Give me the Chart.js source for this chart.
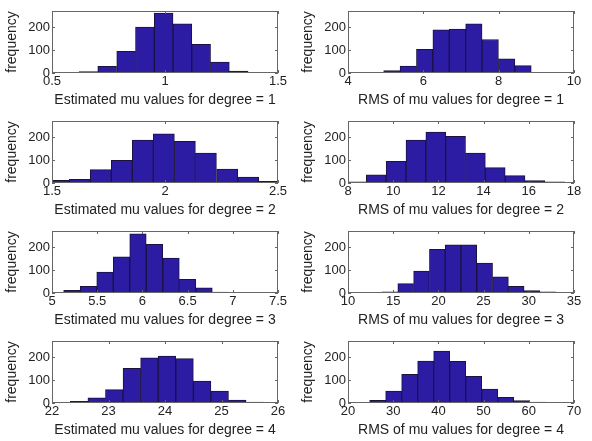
<!DOCTYPE html>
<html>
<head>
<meta charset="utf-8">
<script src="https://cdn.jsdelivr.net/npm/chart.js@4.4.1/dist/chart.umd.min.js"></script>
<style>
  html, body { margin: 0; padding: 0; background: #fff; overflow: hidden; }
  #wrap { position: relative; width: 592px; height: 441px; }
  .cell { position: absolute; width: 296px; height: 110px; }
</style>
</head>
<body>
<div id="wrap"></div>
<script>
// Shared y axis
const yTicks = [0, 100, 200];
const yMax = 270;

// Estimated mu, degree 1
const muDeg1Centers = [0.578, 0.661, 0.744, 0.828, 0.911, 0.994, 1.077, 1.160, 1.243, 1.326, 1.410];
const muDeg1Counts = [2, 6, 29, 94, 200, 261, 214, 125, 48, 8, 2];
const muDeg1Ticks = [0.5, 1, 1.5];

// RMS of mu, degree 1
const rmsDeg1Centers = [5.165, 5.600, 6.035, 6.471, 6.906, 7.341, 7.776, 8.212, 8.647, 9.082, 9.518];
const rmsDeg1Counts = [10, 30, 103, 188, 191, 214, 146, 62, 32, 3, 2];
const rmsDeg1Ticks = [4, 6, 8, 10];

// Estimated mu, degree 2
const muDeg2Centers = [1.530, 1.623, 1.716, 1.809, 1.902, 1.995, 2.088, 2.181, 2.275, 2.368, 2.461];
const muDeg2Counts = [12, 16, 58, 99, 187, 214, 181, 130, 61, 26, 7];
const muDeg2Ticks = [1.5, 2, 2.5];

// RMS of mu, degree 2
const rmsDeg2Centers = [8.373, 9.250, 10.128, 11.005, 11.883, 12.761, 13.638, 14.516, 15.393, 16.271, 17.148];
const rmsDeg2Counts = [5, 36, 94, 187, 222, 203, 130, 67, 32, 10, 5];
const rmsDeg2Ticks = [8, 10, 12, 14, 16, 18];

// Estimated mu, degree 3
const muDeg3Centers = [5.220, 5.403, 5.586, 5.769, 5.951, 6.134, 6.317, 6.500, 6.682, 6.865, 7.048];
const muDeg3Counts = [12, 29, 91, 157, 258, 212, 152, 59, 22, 4, 2];
const muDeg3Ticks = [5, 5.5, 6, 6.5, 7, 7.5];

// RMS of mu, degree 3
const rmsDeg3Centers = [14.63, 16.38, 18.13, 19.88, 21.62, 23.37, 25.12, 26.87, 28.61, 30.36, 32.11];
const rmsDeg3Counts = [5, 41, 96, 190, 210, 210, 130, 70, 29, 10, 5];
const rmsDeg3Ticks = [10, 15, 20, 25, 30, 35];

// Estimated mu, degree 4
const muDeg4Centers = [22.480, 22.791, 23.102, 23.413, 23.724, 24.035, 24.346, 24.657, 24.968, 25.279, 25.590];
const muDeg4Counts = [7, 22, 58, 151, 197, 204, 193, 96, 52, 13, 4];
const muDeg4Ticks = [22, 23, 24, 25, 26];

// RMS of mu, degree 4
const rmsDeg4Centers = [26.56, 30.10, 33.64, 37.18, 40.72, 44.26, 47.80, 51.34, 54.88, 58.42, 61.96];
const rmsDeg4Counts = [12, 52, 125, 183, 226, 181, 116, 61, 25, 10, 4];
const rmsDeg4Ticks = [20, 30, 40, 50, 60, 70];

const panels = [
  { centers: muDeg1Centers, counts: muDeg1Counts, ticks: muDeg1Ticks, label: 'Estimated mu values for degree = 1' },
  { centers: rmsDeg1Centers, counts: rmsDeg1Counts, ticks: rmsDeg1Ticks, label: 'RMS of mu values for degree = 1' },
  { centers: muDeg2Centers, counts: muDeg2Counts, ticks: muDeg2Ticks, label: 'Estimated mu values for degree = 2' },
  { centers: rmsDeg2Centers, counts: rmsDeg2Counts, ticks: rmsDeg2Ticks, label: 'RMS of mu values for degree = 2' },
  { centers: muDeg3Centers, counts: muDeg3Counts, ticks: muDeg3Ticks, label: 'Estimated mu values for degree = 3' },
  { centers: rmsDeg3Centers, counts: rmsDeg3Counts, ticks: rmsDeg3Ticks, label: 'RMS of mu values for degree = 3' },
  { centers: muDeg4Centers, counts: muDeg4Counts, ticks: muDeg4Ticks, label: 'Estimated mu values for degree = 4' },
  { centers: rmsDeg4Centers, counts: rmsDeg4Counts, ticks: rmsDeg4Ticks, label: 'RMS of mu values for degree = 4' }
];

const FONT = "'Liberation Sans', Arial, sans-serif";
const AXIS_COLOR = '#666';

// MATLAB style box with inward tick marks on all four sides
const boxPlugin = {
  id: 'box',
  afterDatasetsDraw(chart) {
    const { ctx, chartArea: a, scales: { x, y } } = chart;
    ctx.save();
    ctx.strokeStyle = AXIS_COLOR;
    ctx.lineWidth = 1;
    ctx.strokeRect(a.left + 0.5, a.top + 0.5, a.right - a.left - 1, a.bottom - a.top - 1);
    ctx.beginPath();
    x.ticks.forEach(t => {
      const px = Math.round(x.getPixelForValue(t.value)) + 0.5;
      ctx.moveTo(px, a.bottom); ctx.lineTo(px, a.bottom - 3);
      ctx.moveTo(px, a.top); ctx.lineTo(px, a.top + 3);
    });
    y.ticks.forEach(t => {
      const py = Math.round(y.getPixelForValue(t.value)) + 0.5;
      ctx.moveTo(a.left, py); ctx.lineTo(a.left + 3, py);
      ctx.moveTo(a.right, py); ctx.lineTo(a.right - 3, py);
    });
    ctx.stroke();
    ctx.restore();
  }
};

const wrap = document.getElementById('wrap');

panels.forEach((p, i) => {
  const cell = document.createElement('div');
  cell.className = 'cell';
  cell.style.left = (i % 2) * 296 + 'px';
  cell.style.top = Math.floor(i / 2) * 110 + 'px';
  const canvas = document.createElement('canvas');
  canvas.width = 296;
  canvas.height = 110;
  cell.appendChild(canvas);
  wrap.appendChild(cell);

  new Chart(canvas.getContext('2d'), {
    type: 'bar',
    data: {
      datasets: [{
        data: p.centers.map((c, k) => ({ x: c, y: p.counts[k] })),
        backgroundColor: 'rgb(44, 28, 164)',
        borderColor: '#1b1240',
        borderWidth: 1,
        barPercentage: 1,
        categoryPercentage: 1,
        clip: 0
      }]
    },
    options: {
      responsive: false,
      animation: false,
      events: [],
      layout: { padding: { top: 11, right: 18, left: 0, bottom: 0 } },
      plugins: { legend: { display: false }, tooltip: { enabled: false } },
      scales: {
        x: {
          type: 'linear',
          offset: false,
          min: p.ticks[0],
          max: p.ticks[p.ticks.length - 1],
          grid: { display: false, drawTicks: false, offset: false },
          border: { display: false },
          afterBuildTicks: s => { s.ticks = p.ticks.map(v => ({ value: v })); },
          afterFit: s => { s.height = 37; },
          ticks: {
            autoSkip: false,
            maxRotation: 0,
            padding: 1,
            color: '#222',
            font: { family: FONT, size: 13 },
            callback: v => String(v)
          },
          title: {
            display: true,
            text: p.label,
            color: '#222',
            font: { family: FONT, size: 14 },
            padding: { top: 0, bottom: 1 }
          }
        },
        y: {
          min: 0,
          max: yMax,
          grid: { display: false, drawTicks: false },
          border: { display: false },
          afterBuildTicks: s => { s.ticks = yTicks.map(v => ({ value: v })); },
          afterFit: s => { s.width = 52; },
          ticks: {
            padding: 2,
            color: '#222',
            font: { family: FONT, size: 13 },
            callback: v => String(v)
          },
          title: {
            display: true,
            text: 'frequency',
            color: '#222',
            font: { family: FONT, size: 14 },
            padding: { top: 4, bottom: 0 }
          }
        }
      }
    },
    plugins: [boxPlugin]
  });
});
</script>
</body>
</html>
